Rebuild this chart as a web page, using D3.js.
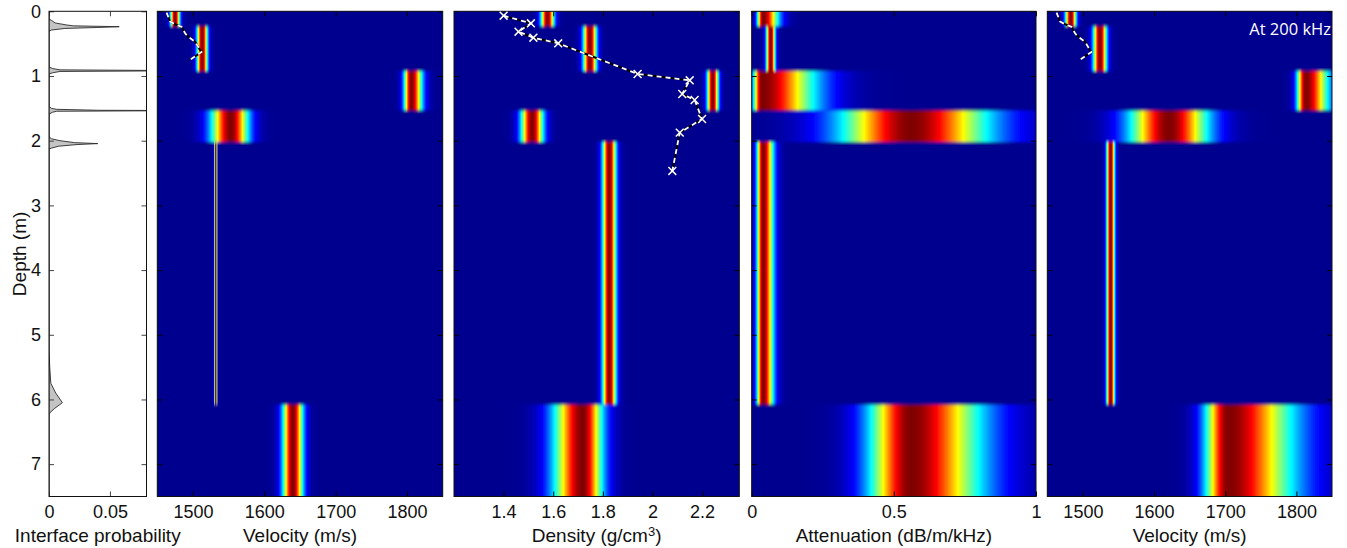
<!DOCTYPE html>
<html>
<head>
<meta charset="utf-8">
<script src="https://cdn.jsdelivr.net/npm/d3@7"></script>
<style>
  html, body { margin: 0; padding: 0; background: #fff; }
  svg { display: block; font-family: "Liberation Sans", Arial, sans-serif; }
</style>
</head>
<body>
<svg id="chart" width="1347" height="548"></svg>
<script>
// layer interfaces (m), shared by all the columns
const interfaceDepths = [0.235, 0.925, 1.535, 2.02, 6.08]
const maxDepth = 7.5

// posterior peak + spread below/above the peak, one entry per layer (top to bottom)
const velocityPeak = [1475, 1513, 1806, 1553, 1532, 1640]
const velocitySpreadLo = [4.6, 5.2, 7, 19, 1.4, 9.8]
const velocitySpreadHi = [4.6, 5.2, 10.5, 17, 1.4, 9.8]

const densityPeak = [1.577, 1.748, 2.243, 1.515, 1.826, 1.718]
const densitySpreadLo = [0.0185, 0.0185, 0.0157, 0.031, 0.019, 0.08]
const densitySpreadHi = [0.0185, 0.0185, 0.0157, 0.031, 0.019, 0.056]

const attenPeak = [0.04, 0.067, 0.035, 0.56, 0.04, 0.56]
const attenSpreadLo = [0.014, 0.011, 0.02, 0.17, 0.015, 0.1]
const attenSpreadHi = [0.037, 0.011, 0.13, 0.19, 0.025, 0.17]

const vel200Peak = [1483, 1524, 1813, 1621, 1539, 1704]
const vel200SpreadLo = [5.3, 6.5, 8.4, 38, 4, 22]
const vel200SpreadHi = [5.3, 6.5, 22, 38, 4, 63]

// interface probability vs depth
const probDepth = [0, 0.12, 0.14, 0.18, 0.21, 0.225, 0.238, 0.25, 0.265, 0.29, 0.31,
  0.86, 0.885, 0.905, 0.918, 0.93, 0.95, 0.97,
  1.47, 1.5, 1.515, 1.53, 1.535, 1.545, 1.56, 1.59,
  1.94, 1.97, 2.0, 2.03, 2.045, 2.06, 2.085, 2.115, 2.13,
  5.25, 5.5, 5.75, 5.9, 6.05, 6.14, 6.2, 6.23, 7.5]
const probValue = [0, 0, 0.002, 0.005, 0.014, 0.02, 0.0576, 0.04, 0.013, 0.002, 0,
  0, 0.003, 0.009, 0.12, 0.009, 0.003, 0,
  0, 0.002, 0.006, 0.04, 0.12, 0.006, 0.003, 0,
  0, 0.002, 0.009, 0.021, 0.04, 0.023, 0.008, 0.002, 0,
  0, 0.0006, 0.0015, 0.0055, 0.011, 0.0045, 0.001, 0, 0]

// core measurements
const coreVelDepth = [0.02, 0.16, 0.2, 0.24, 0.34, 0.39, 0.47, 0.6, 0.63, 0.74]
const coreVelocity = [1463, 1468, 1475, 1484, 1489, 1493, 1503, 1510, 1512, 1497]
const coreDensDepth = [0.068, 0.186, 0.315, 0.408, 0.495, 0.969, 1.067, 1.278, 1.371, 1.665, 1.876, 2.468]
const coreDensity = [1.40, 1.51, 1.46, 1.52, 1.62, 1.94, 2.15, 2.12, 2.17, 2.20, 2.11, 2.08]

// tick labels
const depthTicks = [0, 1, 2, 3, 4, 5, 6, 7]
const probTicks = [0, 0.05]
const velocityTicks = [1500, 1600, 1700, 1800]
const densityTicks = [1.4, 1.6, 1.8, 2, 2.2]
const attenTicks = [0, 0.5, 1]

const svg = d3.select("#chart")
const defs = svg.append("defs")
const plotTop = 11.3, plotBottom = 496.5
const y = d3.scaleLinear().domain([0, maxDepth]).range([plotTop, plotBottom])
const fmt = d3.format("~g")
const tickFont = 18
const titleFont = 19

const jet = d3.scaleLinear()
  .domain([0, 0.125, 0.375, 0.625, 0.875, 1])
  .range(["#00008f", "#0000ff", "#00ffff", "#ffff00", "#ff0000", "#800000"])
  .clamp(true)

const bounds = [0, ...interfaceDepths, maxDepth]
const layers = d3.range(bounds.length - 1).map((i) => ({ top: bounds[i], bottom: bounds[i + 1] }))

const shape = (v, peak, lo, hi) => {
  const z = (v - peak) / (v < peak ? lo : hi)
  return Math.exp(-0.5 * z * z)
}

defs.append("filter").attr("id", "soft")
  .attr("x", "-5%").attr("y", "-5%").attr("width", "110%").attr("height", "110%")
  .append("feGaussianBlur").attr("stdDeviation", "0.35 1.4")

const styleAxis = (g, color) => {
  g.select(".domain").remove()
  g.selectAll(".tick line").attr("stroke", color)
  g.selectAll(".tick text")
    .attr("fill", "#111")
    .style("font-size", tickFont + "px")
    .style("font-family", "'Liberation Sans', Arial, sans-serif")
}

const addFrameAxes = (x, x0, x1, ticks, color, withDepthLabels) => {
  const tick = 5
  const gb = svg.append("g").attr("transform", `translate(0,${plotBottom})`)
    .call(d3.axisBottom(x).tickValues(ticks).tickSizeInner(-tick).tickSizeOuter(0).tickPadding(9).tickFormat(fmt))
  styleAxis(gb, color)
  const gt = svg.append("g").attr("transform", `translate(0,${plotTop})`)
    .call(d3.axisTop(x).tickValues(ticks).tickSizeInner(-tick).tickSizeOuter(0).tickFormat(""))
  styleAxis(gt, color)
  const gl = svg.append("g").attr("transform", `translate(${x0},0)`)
    .call(d3.axisLeft(y).tickValues(depthTicks).tickSizeInner(-tick).tickSizeOuter(0).tickPadding(8)
      .tickFormat(withDepthLabels ? d3.format("d") : ""))
  styleAxis(gl, color)
  const gr = svg.append("g").attr("transform", `translate(${x1},0)`)
    .call(d3.axisRight(y).tickValues(depthTicks).tickSizeInner(-tick).tickSizeOuter(0).tickFormat(""))
  styleAxis(gr, color)
  svg.append("rect")
    .attr("x", x0).attr("y", plotTop).attr("width", x1 - x0).attr("height", plotBottom - plotTop)
    .attr("fill", "none").attr("stroke", "#111").attr("stroke-width", 1)
}

const addTitle = (cx, parts) => {
  const t = svg.append("text")
    .attr("x", cx).attr("y", 542)
    .attr("text-anchor", "middle")
    .attr("fill", "#111")
    .style("font-size", titleFont + "px")
  parts.forEach((p) => {
    const s = t.append("tspan").text(p.text)
    if (p.sup) s.attr("dy", -6).style("font-size", "13px")
    if (p.after) s.attr("dy", 6)
  })
}

// ---- interface probability ----
const px0 = 49, px1 = 146.5
const xProb = d3.scaleLinear().domain([0, 0.08]).range([px0, px1])
defs.append("clipPath").attr("id", "clipProb")
  .append("rect").attr("x", px0).attr("y", plotTop).attr("width", px1 - px0).attr("height", plotBottom - plotTop)
const probData = probDepth.map((d, i) => ({ d, p: probValue[i] }))
svg.append("g").attr("clip-path", "url(#clipProb)")
  .append("path")
  .datum(probData)
  .attr("d", d3.area().y((d) => y(d.d)).x0(xProb(0)).x1((d) => xProb(d.p)))
  .attr("fill", "#c4c4c4")
  .attr("stroke", "#2a2a2a")
  .attr("stroke-width", 0.9)
addFrameAxes(xProb, px0, px1, probTicks, "#444", true)
addTitle((px0 + px1) / 2, [{ text: "Interface probability" }])

svg.append("text")
  .attr("transform", `translate(26,${(plotTop + plotBottom) / 2}) rotate(-90)`)
  .attr("text-anchor", "middle")
  .attr("fill", "#111")
  .style("font-size", titleFont + "px")
  .text("Depth (m)")

// ---- posterior columns ----
const columns = [
  { x0: 157.3, x1: 442.7, domain: [1450, 1850], peak: velocityPeak, lo: velocitySpreadLo, hi: velocitySpreadHi,
    ticks: velocityTicks, title: [{ text: "Velocity (m/s)" }] },
  { x0: 454, x1: 739.3, domain: [1.2, 2.35], peak: densityPeak, lo: densitySpreadLo, hi: densitySpreadHi,
    ticks: densityTicks, title: [{ text: "Density (g/cm" }, { text: "3", sup: true }, { text: ")", after: true }] },
  { x0: 751.7, x1: 1036, domain: [0, 1], peak: attenPeak, lo: attenSpreadLo, hi: attenSpreadHi,
    ticks: attenTicks, title: [{ text: "Attenuation (dB/m/kHz)" }] },
  { x0: 1047.3, x1: 1332, domain: [1450, 1850], peak: vel200Peak, lo: vel200SpreadLo, hi: vel200SpreadHi,
    ticks: velocityTicks, title: [{ text: "Velocity (m/s)" }] },
]

const nStops = 600
columns.forEach((col, ci) => {
  const x = d3.scaleLinear().domain(col.domain).range([col.x0, col.x1])
  col.x = x
  defs.append("clipPath").attr("id", `clip${ci}`)
    .append("rect").attr("x", col.x0).attr("y", plotTop).attr("width", col.x1 - col.x0).attr("height", plotBottom - plotTop)

  const heat = svg.append("g").attr("clip-path", `url(#clip${ci})`)
  heat.append("rect")
    .attr("x", col.x0).attr("y", plotTop).attr("width", col.x1 - col.x0).attr("height", plotBottom - plotTop)
    .attr("fill", jet(0))
  const blurred = heat.append("g").attr("filter", "url(#soft)")

  layers.forEach((ly, li) => {
    const id = `grad${ci}_${li}`
    const grad = defs.append("linearGradient").attr("id", id)
      .attr("gradientUnits", "userSpaceOnUse")
      .attr("x1", col.x0).attr("x2", col.x1).attr("y1", 0).attr("y2", 0)
    grad.selectAll("stop")
      .data(d3.range(nStops + 1))
      .join("stop")
      .attr("offset", (i) => i / nStops)
      .attr("stop-color", (i) => {
        const v = x.invert(col.x0 + (i / nStops) * (col.x1 - col.x0))
        return jet(shape(v, col.peak[li], col.lo[li], col.hi[li]))
      })
    const y0 = li === 0 ? y(ly.top) - 10 : y(ly.top)
    const y1 = li === layers.length - 1 ? y(ly.bottom) + 10 : y(ly.bottom)
    blurred.append("rect")
      .attr("x", col.x0 - 10).attr("width", col.x1 - col.x0 + 20)
      .attr("y", y0).attr("height", y1 - y0)
      .attr("fill", `url(#${id})`)
  })

  addFrameAxes(x, col.x0, col.x1, col.ticks, "#000", false)
  addTitle((col.x0 + col.x1) / 2, col.title)
})

// ---- core profiles ----
const drawProfile = (col, depths, values, markers) => {
  const pts = depths.map((d, i) => ({ d, v: values[i] }))
  const line = d3.line().x((p) => col.x(p.v)).y((p) => y(p.d))
  const g = svg.append("g")
  g.append("path").datum(pts).attr("d", line)
    .attr("fill", "none").attr("stroke", "#000").attr("stroke-width", 2)
  g.append("path").datum(pts).attr("d", line)
    .attr("fill", "none").attr("stroke", "#fff").attr("stroke-width", 1.8)
    .attr("stroke-dasharray", "5,4")
  if (markers) {
    g.selectAll(".mk").data(pts).join("path")
      .attr("transform", (p) => `translate(${col.x(p.v)},${y(p.d)})`)
      .attr("d", d3.symbol(d3.symbolX, 42))
      .attr("fill", "none").attr("stroke", "#fff").attr("stroke-width", 1.5)
  }
}
drawProfile(columns[0], coreVelDepth, coreVelocity, false)
drawProfile(columns[1], coreDensDepth, coreDensity, true)
drawProfile(columns[3], coreVelDepth, coreVelocity, false)

svg.append("text")
  .attr("x", 1331).attr("y", 35)
  .attr("text-anchor", "end")
  .attr("fill", "#fff")
  .style("font-family", "'Open Sans', sans-serif")
  .style("font-size", "16.5px")
  .text("At 200 kHz")
</script>
</body>
</html>
